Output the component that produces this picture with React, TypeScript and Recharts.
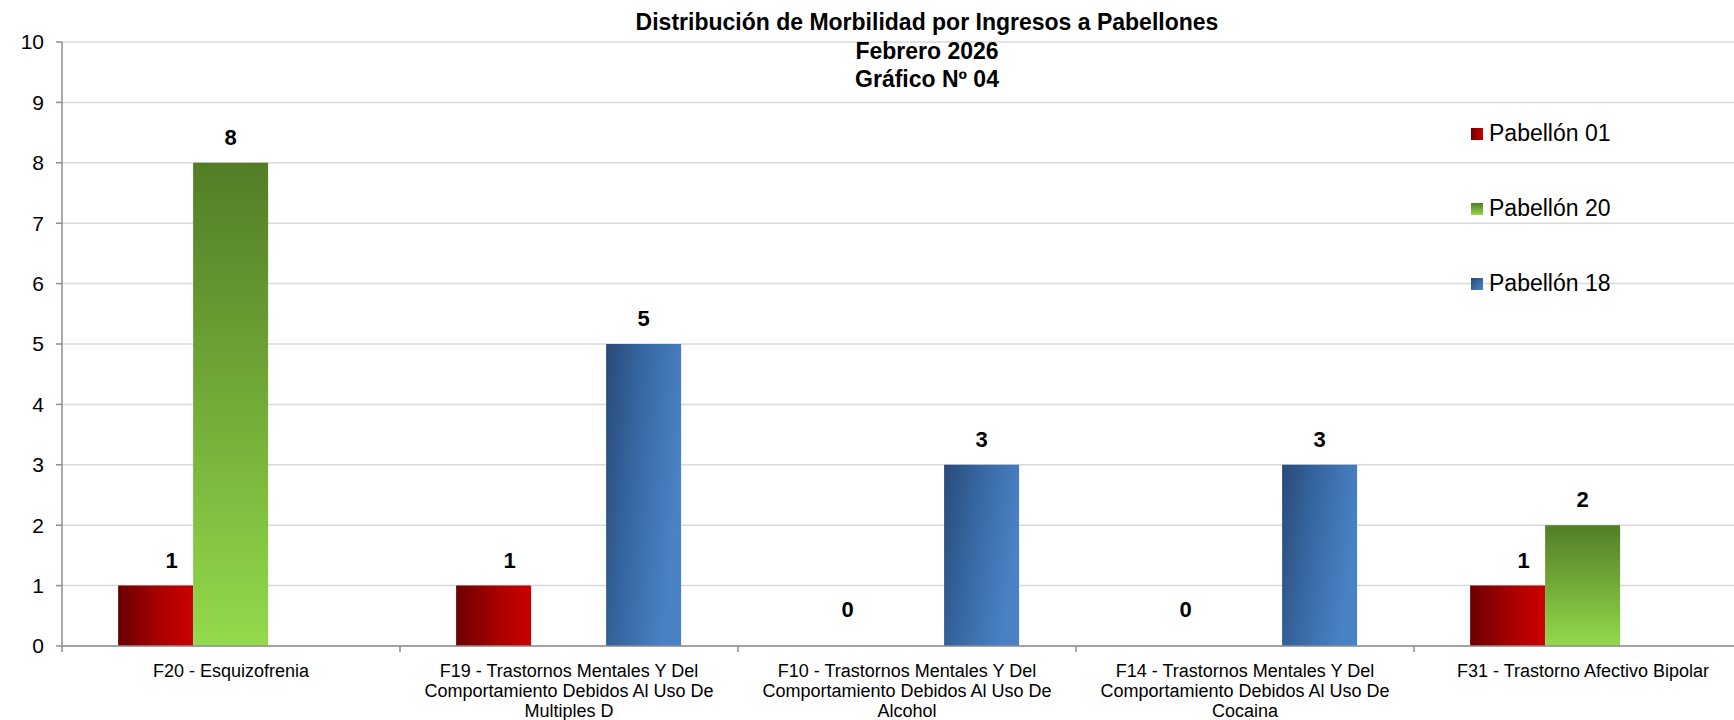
import { Bar, BarChart, CartesianGrid, LabelList, Legend, XAxis, YAxis } from "recharts";

const categories = [
  "F20 - Esquizofrenia",
  "F19 - Trastornos Mentales Y Del Comportamiento Debidos Al Uso De Multiples D",
  "F10 - Trastornos Mentales Y Del Comportamiento Debidos Al Uso De Alcohol",
  "F14 - Trastornos Mentales Y Del Comportamiento Debidos Al Uso De Cocaina",
  "F31 - Trastorno Afectivo Bipolar",
];
const pabellon01 = [1, 1, 0, 0, 1];
const pabellon20 = [8, null, null, null, 2];
const pabellon18 = [null, 5, 3, 3, null];
const yTicks = [0, 1, 2, 3, 4, 5, 6, 7, 8, 9, 10];
const titleLines = ["Distribución de Morbilidad por Ingresos a Pabellones", "Febrero 2026", "Gráfico Nº 04"];

const FONT = "'Liberation Sans', Arial, sans-serif";
const CHART_W = 1760;
const CHART_H = 720;
const PLOT_LEFT = 62;
const PLOT_RIGHT = 8;
const BAND = (CHART_W - PLOT_LEFT - PLOT_RIGHT) / categories.length;

const series = [
  { key: "p01", name: "Pabellón 01", fill: "url(#gradRed)", css: "linear-gradient(to right, #6b0000, #cc0000)", dx: 16 },
  { key: "p20", name: "Pabellón 20", fill: "url(#gradGreen)", css: "linear-gradient(to bottom, #527d26, #93da4b)", dx: 0 },
  { key: "p18", name: "Pabellón 18", fill: "url(#gradBlue)", css: "linear-gradient(135deg, #284a78, #4a82c6)", dx: 0 },
];

const data = categories.map((name, i) => ({
  name,
  p01: pabellon01[i],
  p20: pabellon20[i],
  p18: pabellon18[i],
}));

let measureCtx: CanvasRenderingContext2D | null = null;
function wrap(text: string, maxWidth: number): string[] {
  if (!measureCtx) {
    measureCtx = document.createElement("canvas").getContext("2d");
  }
  const ctx = measureCtx!;
  ctx.font = `18px ${FONT}`;
  const lines: string[] = [];
  let line = "";
  for (const word of text.split(" ")) {
    const next = line ? `${line} ${word}` : word;
    if (line && ctx.measureText(next).width > maxWidth) {
      lines.push(line);
      line = word;
    } else {
      line = next;
    }
  }
  if (line) lines.push(line);
  return lines;
}

function CategoryTick(props: any) {
  const { x, y, payload } = props;
  const lines = wrap(String(payload.value), 300);
  return (
    <g>
      <line x1={x - BAND / 2} x2={x - BAND / 2} y1={y} y2={y + 6} stroke="#8e8e8e" strokeWidth={1.5} />
      <text x={x} y={y + 31} textAnchor="middle" fontSize={18} fontFamily={FONT} fill="#000">
        {lines.map((l, i) => (
          <tspan key={i} x={x} dy={i === 0 ? 0 : 20}>
            {l}
          </tspan>
        ))}
      </text>
    </g>
  );
}

const valueLabel = (dx: number) => (props: any) => {
  const { x, y, width, value } = props;
  if (value === null || value === undefined) return null;
  // Excel lifts the label of an empty bar a bit higher
  const lift = Number(value) === 0 ? 29 : 18;
  return (
    <text
      x={Number(x) + Number(width) / 2 + dx}
      y={Number(y) - lift}
      textAnchor="middle"
      fontSize={22}
      fontWeight="bold"
      fontFamily={FONT}
      fill="#000"
    >
      {value}
    </text>
  );
};

function LegendBox() {
  return (
    <div style={{ fontFamily: FONT, fontSize: 23, color: "#000" }}>
      {series.map((s) => (
        <div key={s.key} style={{ height: 75, display: "flex", alignItems: "center" }}>
          <span style={{ width: 12, height: 12, background: s.css, marginRight: 6, display: "inline-block" }} />
          <span>{s.name}</span>
        </div>
      ))}
    </div>
  );
}

export default function App() {
  return (
    <div style={{ position: "fixed", left: 0, top: 0, width: 1734, height: 720, overflow: "hidden", background: "#fff" }}>
      <BarChart
        width={CHART_W}
        height={CHART_H}
        data={data}
        margin={{ top: 42, right: PLOT_RIGHT, left: 0, bottom: 0 }}
        barCategoryGap="16.6%"
        barGap={0}
      >
        <defs>
          <linearGradient id="gradRed" x1="0" y1="0" x2="1" y2="0">
            <stop offset="0%" stopColor="#6b0000" />
            <stop offset="55%" stopColor="#a80000" />
            <stop offset="100%" stopColor="#cc0000" />
          </linearGradient>
          <linearGradient id="gradGreen" x1="0" y1="0" x2="0" y2="1">
            <stop offset="0%" stopColor="#527d26" />
            <stop offset="100%" stopColor="#93da4b" />
          </linearGradient>
          <linearGradient id="gradBlue" x1="0" y1="0" x2="1" y2="0.35">
            <stop offset="0%" stopColor="#284a78" />
            <stop offset="45%" stopColor="#3767a2" />
            <stop offset="100%" stopColor="#4a82c6" />
          </linearGradient>
        </defs>
        <CartesianGrid vertical={false} stroke="#d9d9d9" strokeWidth={1.5} />
        <XAxis
          dataKey="name"
          height={74}
          interval={0}
          tickLine={false}
          tickSize={0}
          tickMargin={0}
          axisLine={{ stroke: "#8e8e8e", strokeWidth: 1.5 }}
          tick={<CategoryTick />}
        />
        <YAxis
          width={PLOT_LEFT}
          domain={[0, 10]}
          ticks={yTicks}
          interval={0}
          tickSize={6}
          tickMargin={12}
          axisLine={{ stroke: "#8e8e8e", strokeWidth: 1.5 }}
          tickLine={{ stroke: "#8e8e8e", strokeWidth: 1.5 }}
          tick={{ fontSize: 21, fontFamily: FONT, fill: "#000" }}
        />
        <Legend
          layout="vertical"
          align="center"
          verticalAlign="middle"
          content={<LegendBox />}
          wrapperStyle={{ left: 1471, top: 96, width: 220 }}
        />
        {series.map((s) => (
          <Bar
            key={s.key}
            dataKey={s.key}
            name={s.name}
            fill={s.fill}
            minPointSize={(v: number) => (v === 0 ? 0.01 : 0)}
            isAnimationActive={false}
          >
            <LabelList dataKey={s.key} content={valueLabel(s.dx)} />
          </Bar>
        ))}
      </BarChart>
      <div
        style={{
          position: "absolute",
          left: 927,
          top: 8,
          transform: "translateX(-50%)",
          textAlign: "center",
          fontFamily: FONT,
          fontWeight: "bold",
          fontSize: 23,
          lineHeight: "28.5px",
          whiteSpace: "nowrap",
          color: "#000",
        }}
      >
        {titleLines.map((t) => (
          <div key={t}>{t}</div>
        ))}
      </div>
    </div>
  );
}
